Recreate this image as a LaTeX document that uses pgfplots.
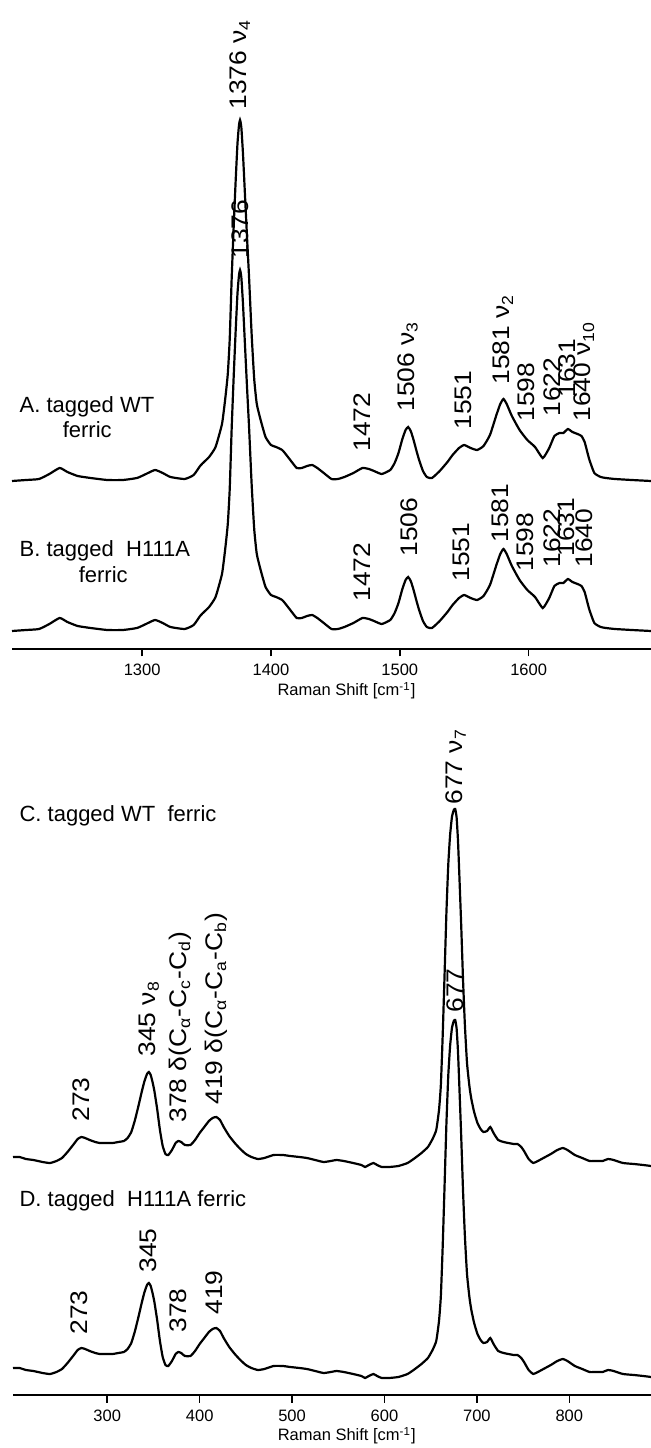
\documentclass[border=0pt]{standalone}
\usepackage{pgfplots}
\usepackage{pgfplotstable}
\pgfplotsset{compat=1.18}
\usepackage{fontspec}
\setmainfont{Liberation Sans}
\newcommand{\lab}{\fontsize{12}{14}\selectfont}
\newcommand{\hl}{\fontsize{11}{13}\selectfont}
\newcommand{\tk}{\fontsize{8.25}{10}\selectfont}
\pgfplotstableread{
w A B
1199 168 18
1210 169 19
1220 170 20
1228 175 25
1236 181 31
1242 177 27
1250 173 23
1260 171 21
1273 169 19
1285 169 19
1296 171 21
1303 175 25
1310 179 29
1316 176 26
1322 172 22
1333 170 20
1340 174 24
1345 183 33
1348 187 37
1352 192 42
1357 202 52
1362 225 75
1364.5 250 100
1366.5 275 125
1368 310 160
1369.5 370 220
1371 420 270
1372.5 465 315
1374 505 355
1375.2 524 374
1376 529 379
1377 522 372
1378.3 495 345
1379.8 455 305
1381.5 410 260
1383 372 222
1385 315 165
1387 270 120
1389 245 95
1392 229 79
1395.8 212 62
1400 204 54
1404 202 52
1408.7 199 49
1412 194 44
1415 189 39
1420 181 31
1424 181 31
1428 183 33
1432 184 34
1436 181 31
1441 176 26
1447 170 20
1452 170 20
1457 172 22
1464 176 26
1471 181 31
1476 180 30
1480 178 28
1486 175 25
1492.6 179 29
1496 186 36
1499 196 46
1502 210 60
1504.5 219 69
1506.5 222 72
1508.5 218 68
1510.5 210 60
1513 198 48
1515 189 39
1518 178 28
1521 172 22
1525 171 21
1531 178 28
1537 187 37
1541 194 44
1546 201 51
1550 204 54
1555 201 51
1560 199 49
1565 203 53
1570 214 64
1575 234 84
1578 245 95
1580.5 250 100
1583 245 95
1587 233 83
1593 219 69
1599 209 59
1605 202 52
1611 191 41
1616 201 51
1620 213 63
1624 216 66
1627 216 66
1630.5 220 70
1634 217 67
1638 215 65
1641 213 63
1643.5 207 57
1647 190 40
1651 176 26
1656 172 22
1660 171 21
1667 170 20
1680 169 19
1695 168 18
}\topdata
\pgfplotstableread{
w C D
198 238 27
205 238 27
212 236 25
220 235 24
230 233 22
238 232 21
245 234 23
251 237 26
257 243 32
263 250 39
268 256 45
272 258 47
276 257 46
281 255 44
287 253 42
292 252 41
300 252 41
306 252 41
312 253 42
318 254 43
322 257 46
326 263 52
330 275 64
334 290 79
337 302 91
340 313 102
343 321 110
345 323 112
347 320 109
349 313 102
351 304 93
354 286 75
357 265 54
360 249 38
363 241 30
366 240 29
370 245 34
374 252 41
377 254 43
380 253 42
384 250 39
390 250 39
395 255 44
400 262 51
405 268 57
410 274 63
414 277 66
418 278 67
422 275 64
426 268 57
432 259 48
438 252 41
444 246 35
450 241 30
456 238 27
463 236 25
470 237 26
480 240 29
490 240 29
498 239 28
508 238 27
516 237 26
525 235 24
534 233 22
542 234 23
548 235 24
556 234 23
566 232 21
575 230 19
579 228 17
583 230 19
588 232 21
592 230 19
597 228 17
605 228 17
615 229 18
625 232 21
633 237 26
640 242 31
647 248 37
652 256 45
656 265 54
659 285 74
661 310 99
663 360 149
665 420 209
667 482 271
669 530 319
671 560 349
673 578 367
675 585 374
676.5 586 375
678 578 367
679.5 555 344
681 520 309
683 470 259
685 415 204
687 370 159
689.3 332 121
692 308 97
694 296 85
697 283 72
700.6 272 61
704 266 55
707 263 52
711 264 53
714.5 268 57
718 262 51
723 255 44
729 253 42
734 252 41
740 251 40
744 251 40
748 248 37
751 244 33
756 236 25
761 232 21
766 234 23
772 237 26
780 241 30
787 245 34
793 247 36
798 245 34
806 240 29
814 237 26
822 234 23
830 234 23
836 234 23
842 236 25
848 235 24
858 232 21
870 231 20
880 230 19
888.4 229 18
}\botdata
\begin{document}
\begin{tikzpicture}
\path[use as bounding box] (0,0) rectangle (325.5pt,724pt);
\pgfplotsset{spec/.style={scale only axis, axis y line=none, axis x line*=bottom,
  xtick align=outside, major tick length=3.75pt,
  x axis line style={line width=1pt}, xtick style={line width=0.8pt, black},
  xticklabel style={font=\tk}, clip=false, ymin=0}}
\begin{axis}[spec, at={(6pt,399.5pt)}, anchor=south west, width=319.5pt, height=324.5pt,
  xmin=1199, xmax=1695, ymax=649,
  xtick={1300,1400,1500,1600}, xticklabels={1300,1400,1500,1600}]
\addplot[black, line width=1.1pt, smooth, tension=0.3] table[x=w, y=A] {\topdata};
\addplot[black, line width=1.1pt, smooth, tension=0.3] table[x=w, y=B] {\topdata};
\node[anchor=base, font=\tk, inner sep=0] at (axis cs:1458.6,-47) {Raman Shift [cm\textsuperscript{-1}]};
\node[anchor=base west, inner sep=0, font=\hl] at (axis cs:1204.7,236) {A. tagged WT};
\node[anchor=base, inner sep=0, font=\hl] at (axis cs:1257.4,211) {ferric};
\node[anchor=base west, inner sep=0, font=\hl] at (axis cs:1204.7,92) {B. tagged\ \ H111A};
\node[anchor=base, inner sep=0, font=\hl] at (axis cs:1269.8,66) {ferric};
\begin{scope}[every node/.style={rotate=90, xscale=1.1, anchor=west, inner sep=0, font=\lab}]
\node at (axis cs:1376,539) {1376 ν\textsubscript{4}};
\node at (axis cs:1376,390) {1376};
\node at (axis cs:1471,197) {1472};
\node at (axis cs:1506,237) {1506 ν\textsubscript{3}};
\node at (axis cs:1549,219) {1551};
\node at (axis cs:1580,264) {1581 ν\textsubscript{2}};
\node at (axis cs:1598,227) {1598};
\node at (axis cs:1618,232) {1622};
\node at (axis cs:1630,251) {1631};
\node at (axis cs:1643,227) {1640 ν\textsubscript{10}};
\node at (axis cs:1471,47) {1472};
\node at (axis cs:1507,92) {1506};
\node at (axis cs:1548,67) {1551};
\node at (axis cs:1578,106) {1581};
\node at (axis cs:1597,77) {1598};
\node at (axis cs:1618,81) {1622};
\node at (axis cs:1629,92) {1631};
\node at (axis cs:1643,81) {1640};
\end{scope}
\end{axis}
\begin{axis}[spec, at={(6.5pt,26.5pt)}, anchor=south west, width=319pt, height=337.5pt,
  xmin=198, xmax=888.4, ymax=675,
  xtick={300,400,500,600,700,800}, xticklabels={300,400,500,600,700,800}]
\addplot[black, line width=1.1pt, smooth, tension=0.3] table[x=w, y=C] {\botdata};
\addplot[black, line width=1.1pt, smooth, tension=0.3] table[x=w, y=D] {\botdata};
\node[anchor=base, font=\tk, inner sep=0] at (axis cs:559.1,-46) {Raman Shift [cm\textsuperscript{-1}]};
\node[anchor=base west, inner sep=0, font=\hl] at (axis cs:204.7,573) {C. tagged WT\ \ ferric};
\node[anchor=base west, inner sep=0, font=\hl] at (axis cs:204.7,188) {D. tagged\ \ H111A ferric};
\begin{scope}[every node/.style={rotate=90, xscale=1.1, anchor=west, inner sep=0, font=\lab}]
\node at (axis cs:677,590) {677 ν\textsubscript{7}};
\node at (axis cs:677,382) {677};
\node at (axis cs:272,273) {273};
\node at (axis cs:345,338) {345 ν\textsubscript{8}};
\node at (axis cs:379,272) {378 δ(C\textsubscript{α}-C\textsubscript{c}-C\textsubscript{d})};
\node at (axis cs:418,290) {419 δ(C\textsubscript{α}-C\textsubscript{a}-C\textsubscript{b})};
\node at (axis cs:270,60) {273};
\node at (axis cs:344,122) {345};
\node at (axis cs:377,62) {378};
\node at (axis cs:416,80) {419};
\end{scope}
\end{axis}
\end{tikzpicture}
\end{document}
